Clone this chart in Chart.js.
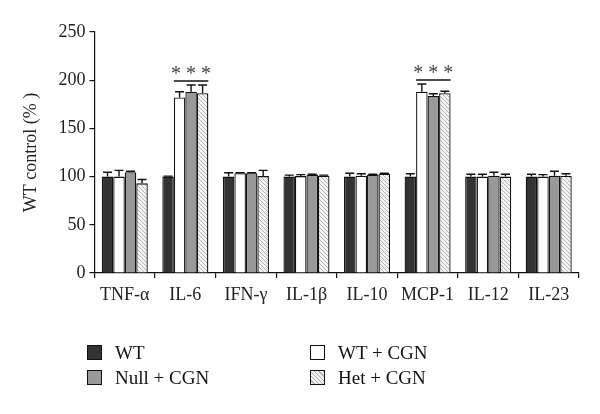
<!DOCTYPE html>
<html>
<head>
    <title>WT control</title>
    <script src="https://cdn.jsdelivr.net/npm/chart.js@4.4.0/dist/chart.umd.min.js"></script>
    <style>
        body { margin: 0; background: #fff; }
        #wrap { position: relative; width: 600px; height: 414px; }
        .legend { position: absolute; left: 0; top: 0; width: 600px; height: 414px; pointer-events: none;
                  font-family: 'Liberation Serif', serif; font-size: 19px; color: #111; }
        .item { position: absolute; white-space: nowrap; height: 20px; line-height: 20px; }
        .box { position: absolute; left: 0; top: 2px; width: 13px; height: 13px; border: 1.3px solid #111; }
        .item span { position: absolute; left: 28px; top: 0; }
    </style>
</head>
<body>
<div id="wrap">
    <canvas id="cytoChart"></canvas>
    <div class="legend">
        <div class="item" style="left:87px; top:343px;"><div class="box" style="background:#333;"></div><span>WT</span></div>
        <div class="item" style="left:87px; top:368px;"><div class="box" style="background:#999;"></div><span>Null + CGN</span></div>
        <div class="item" style="left:310px; top:343px;"><div class="box" style="background:#fff;"></div><span>WT + CGN</span></div>
        <div class="item" style="left:310px; top:368px;"><div class="box" style="background:repeating-linear-gradient(45deg,#f2f2f2 0 2px,#b0b0b0 2px 3px);"></div><span>Het + CGN</span></div>
    </div>
</div>

<script>
    // 데이터
    const categories = ['TNF-α', 'IL-6', 'IFN-γ', 'IL-1β', 'IL-10', 'MCP-1', 'IL-12', 'IL-23'];
    const seriesNames = ['WT', 'WT + CGN', 'Null + CGN', 'Het + CGN'];
    const wtValues     = [100, 100, 100, 100, 100, 100, 100, 100];
    const wtCgnValues  = [100, 182, 103.5, 100.5, 101, 188, 100, 100];
    const nullValues   = [104.5, 188, 103.5, 102, 102, 183.5, 101, 101];
    const hetValues    = [93, 186.5, 100.5, 101, 103, 186.5, 100, 101];
    const wtErr        = [4.5, 0.5, 4, 1.5, 3.5, 3, 2.5, 2.5];
    const wtCgnErr     = [6.5, 6, 0.5, 1.5, 2, 8, 2.5, 2];
    const nullErr      = [1, 7, 0.5, 0.5, 0.5, 2.5, 3.5, 4.5];
    const hetErr       = [4, 8.5, 6, 0.5, 0.5, 2, 2.5, 2];
    const sigCategories = ['IL-6', 'MCP-1'];
    const sigText = '* * *';
    const yTicks = [0, 50, 100, 150, 200, 250];

    // 사선 패턴
    function makeHatch() {
        const c = document.createElement('canvas');
        c.width = 4; c.height = 4;
        const g = c.getContext('2d');
        g.fillStyle = '#f4f4f4';
        g.fillRect(0, 0, 4, 4);
        g.strokeStyle = '#b4b4b4';
        g.lineWidth = 1;
        g.beginPath();
        g.moveTo(0, 0); g.lineTo(4, 4);
        g.moveTo(-1, 3); g.lineTo(1, 5);
        g.moveTo(3, -1); g.lineTo(5, 1);
        g.stroke();
        return g.createPattern(c, 'repeat');
    }

    const errorLists = [wtErr, wtCgnErr, nullErr, hetErr];

    // 에러바 + 유의성 표시
    const errorBars = {
        id: 'errorBars',
        afterDatasetsDraw(chart) {
            const ctx = chart.ctx;
            const y = chart.scales.y;
            ctx.save();
            ctx.strokeStyle = '#111';
            ctx.lineWidth = 1.4;
            chart.data.datasets.forEach((ds, di) => {
                const meta = chart.getDatasetMeta(di);
                meta.data.forEach((bar, i) => {
                    const top = y.getPixelForValue(ds.data[i] + errorLists[di][i]);
                    ctx.beginPath();
                    ctx.moveTo(bar.x, bar.y);
                    ctx.lineTo(bar.x, top);
                    ctx.moveTo(bar.x - 4.5, top);
                    ctx.lineTo(bar.x + 4.5, top);
                    ctx.stroke();
                });
            });
            sigCategories.forEach(name => {
                const i = categories.indexOf(name);
                const b1 = chart.getDatasetMeta(1).data[i];
                const b3 = chart.getDatasetMeta(3).data[i];
                let maxVal = 0;
                for (let d = 1; d < 4; d++) {
                    maxVal = Math.max(maxVal, chart.data.datasets[d].data[i] + errorLists[d][i]);
                }
                const ly = y.getPixelForValue(maxVal) - 4;
                ctx.beginPath();
                ctx.moveTo(b1.x - b1.width / 2, ly);
                ctx.lineTo(b3.x + b3.width / 2, ly);
                ctx.stroke();
                ctx.fillStyle = '#444';
                ctx.font = '20px "Liberation Serif"';
                ctx.textAlign = 'center';
                ctx.textBaseline = 'alphabetic';
                ctx.fillText(sigText, (b1.x + b3.x) / 2, ly - 1);
            });
            ctx.restore();
        }
    };

    const fills = ['#333333', '#ffffff', '#999999', makeHatch()];
    const values = [wtValues, wtCgnValues, nullValues, hetValues];

    const ctx = document.getElementById('cytoChart').getContext('2d');
    new Chart(ctx, {
        type: 'bar',
        data: {
            labels: categories,
            datasets: seriesNames.map((name, k) => ({
                label: name,
                data: values[k],
                backgroundColor: fills[k],
                borderColor: '#111',
                borderWidth: 1.3,
                borderSkipped: 'bottom',
                categoryPercentage: 0.76,
                barPercentage: 1.0
            }))
        },
        options: {
            responsive: true,
            maintainAspectRatio: false,
            animation: false,
            layout: { padding: { top: 32, right: 21, bottom: 101, left: 0 } },
            plugins: {
                legend: { display: false },
                tooltip: { enabled: false }
            },
            scales: {
                x: {
                    afterFit(scale) { scale.height = 40; },
                    grid: { drawOnChartArea: false, offset: true, tickLength: 5, color: '#111', lineWidth: 1.2 },
                    border: { color: '#111', width: 1.2 },
                    ticks: {
                        color: '#222',
                        padding: 6,
                        font: { family: 'Liberation Serif', size: 18 },
                        maxRotation: 0,
                        autoSkip: false
                    }
                },
                y: {
                    min: 0,
                    max: 250,
                    afterFit(scale) { scale.width = 94.5; },
                    afterBuildTicks(scale) { scale.ticks = yTicks.map(v => ({ value: v })); },
                    grid: { drawOnChartArea: false, tickLength: 5, color: '#111', lineWidth: 1.2 },
                    border: { color: '#111', width: 1.2 },
                    ticks: {
                        color: '#222',
                        padding: 4,
                        font: { family: 'Liberation Serif', size: 18 }
                    },
                    title: {
                        display: true,
                        text: 'WT control (% )',
                        color: '#222',
                        font: { family: 'Liberation Serif', size: 18 },
                        padding: { top: 20, bottom: 0 }
                    }
                }
            }
        },
        plugins: [errorBars]
    });
</script>
</body>
</html>
